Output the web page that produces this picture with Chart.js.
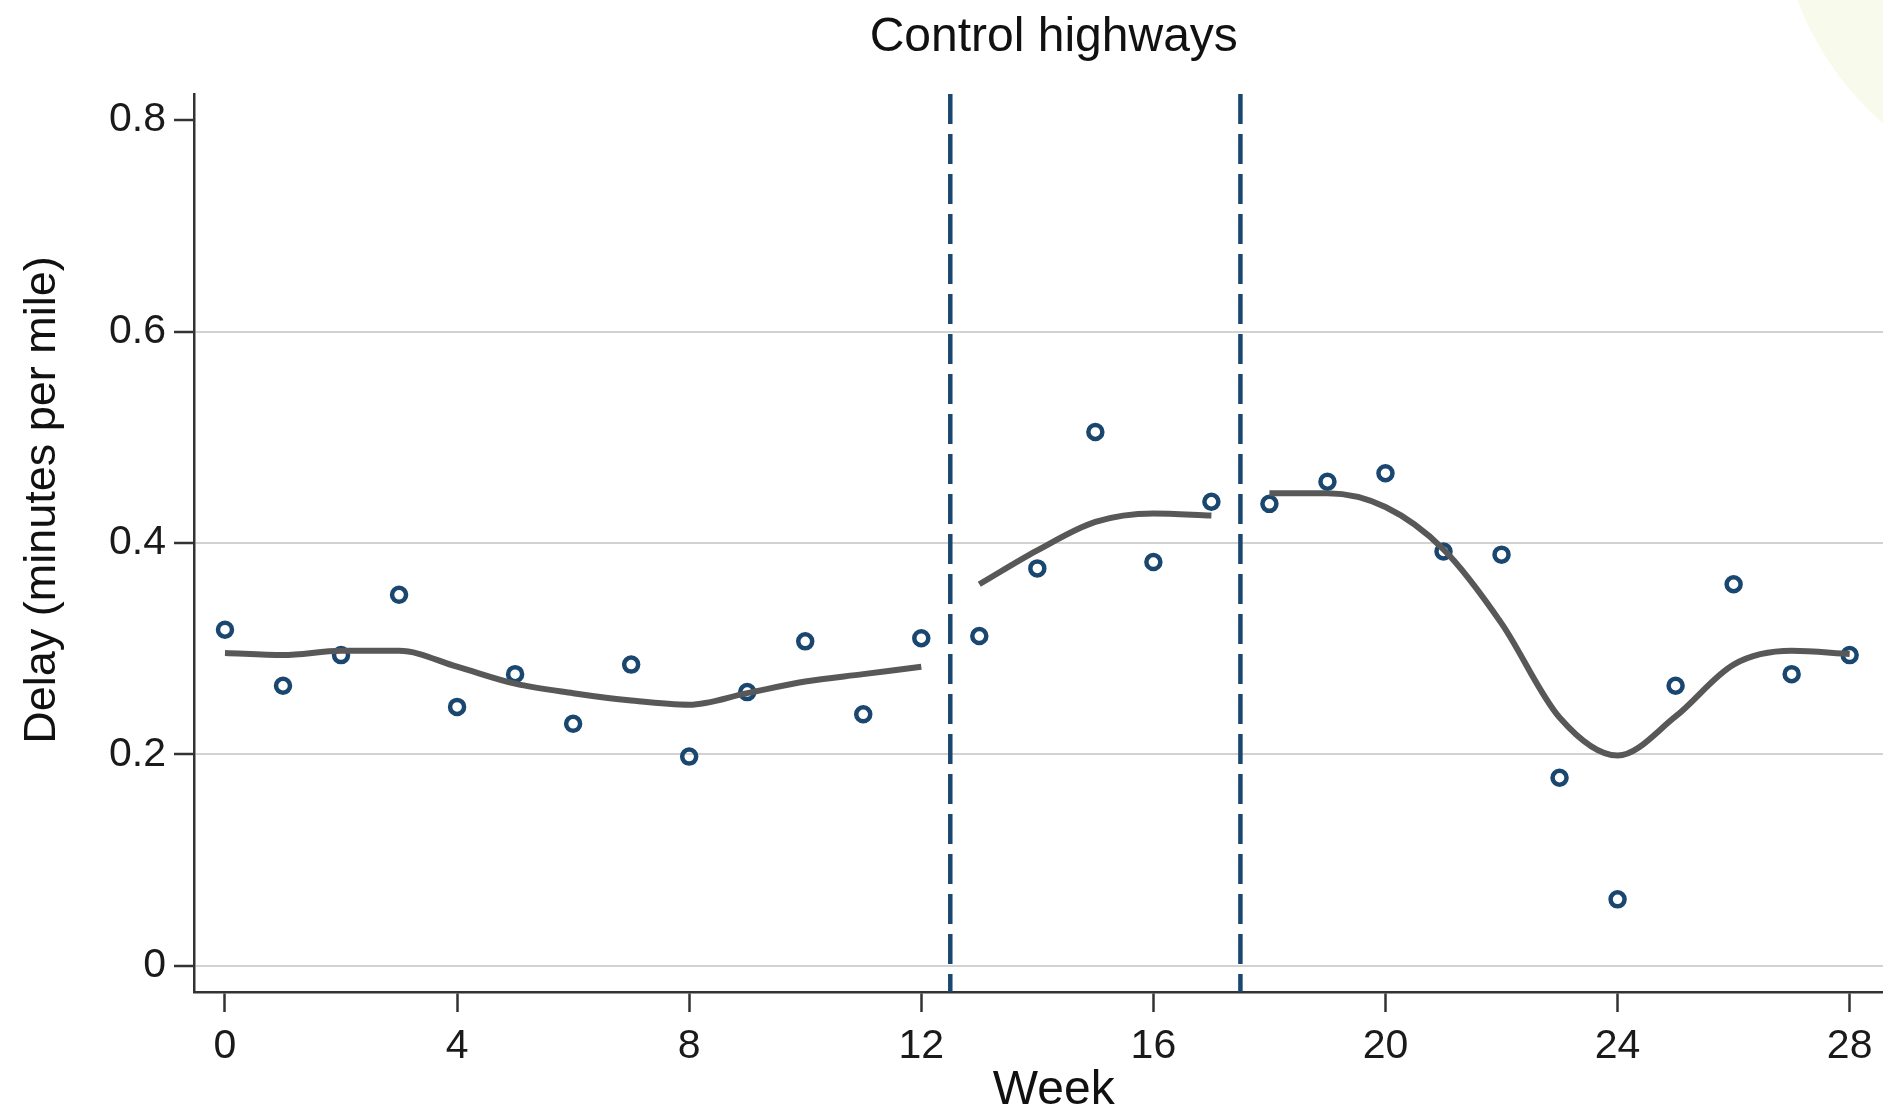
<!DOCTYPE html>
<html>
<head>
<meta charset="utf-8">
<title>Control highways</title>
<script src="https://cdn.jsdelivr.net/npm/chart.js@4.4.1/dist/chart.umd.min.js"></script>
<style>
  html, body { margin: 0; padding: 0; background: #fff; overflow: hidden; }
  #wrap { position: relative; width: 1883px; height: 1112px; overflow: hidden; }
  #blob { position: absolute; left: 1778px; top: -412px; width: 610px; height: 610px; border-radius: 50%; background: #f8fbeb; }
  #chart { position: absolute; left: 0; top: 0; }
</style>
</head>
<body>
<div id="wrap">
  <div id="blob"></div>
  <canvas id="chart" width="1925" height="1112"></canvas>
</div>
<script>
// weekly delay, control highways
const weeks = [0, 1, 2, 3, 4, 5, 6, 7, 8, 9, 10, 11, 12, 13, 14, 15, 16, 17, 18, 19, 20, 21, 22, 23, 24, 25, 26, 27, 28];
const delay = [0.318, 0.265, 0.294, 0.351, 0.245, 0.276, 0.229, 0.285, 0.198, 0.259, 0.307, 0.238, 0.310,
               0.312, 0.376, 0.505, 0.382, 0.439,
               0.437, 0.458, 0.466, 0.392, 0.389, 0.178, 0.063, 0.265, 0.361, 0.276, 0.294];

// smoothed fit, one piece per period
const weeksPre = [0, 1, 2, 3, 4, 5, 6, 7, 8, 9, 10, 11, 12];
const smoothPre = [0.296, 0.294, 0.298, 0.298, 0.283, 0.267, 0.258, 0.251, 0.247, 0.258, 0.269, 0.276, 0.283];
const weeksDuring = [13, 14, 15, 16, 17];
const smoothDuring = [0.361, 0.393, 0.420, 0.428, 0.426];
const weeksPost = [18, 19, 20, 21, 22, 23, 24, 25, 26, 27, 28];
const smoothPost = [0.447, 0.447, 0.434, 0.394, 0.324, 0.235, 0.199, 0.236, 0.285, 0.298, 0.295];

const breaks = [12.5, 17.5];
const xTicks = [0, 4, 8, 12, 16, 20, 24, 28];
const yTicks = [0, 0.2, 0.4, 0.6, 0.8];
const yMin = -0.0246, yMax = 0.8246;

const FONT = '"Liberation Sans", Arial, Helvetica, sans-serif';
const NAVY = '#1a476f';
const yTitle = 'Delay (minutes per mile)';

const toPts = (xs, ys) => xs.map((x, i) => ({ x: x, y: ys[i] }));

const smoothStyle = {
  type: 'line',
  borderColor: '#585858',
  borderWidth: 6,
  pointRadius: 0,
  fill: false,
  cubicInterpolationMode: 'monotone'
};

const datasets = [
  { ...smoothStyle, data: toPts(weeksPre, smoothPre) },
  { ...smoothStyle, data: toPts(weeksDuring, smoothDuring) },
  { ...smoothStyle, data: toPts(weeksPost, smoothPost) },
  {
    type: 'line',
    data: toPts(weeks, delay),
    showLine: false,
    pointStyle: 'circle',
    pointRadius: 7,
    pointBorderWidth: 4.5,
    pointBorderColor: NAVY,
    pointBackgroundColor: 'rgba(255,255,255,0)'
  }
];
breaks.forEach(b => {
  datasets.push({
    type: 'line',
    data: [{ x: b, y: yMax }, { x: b, y: yMin }],
    borderColor: NAVY,
    borderWidth: 4.5,
    borderDash: [30, 10],
    pointRadius: 0,
    fill: false
  });
});

// y title sits a bit above the plot middle, like the original
const yTitlePlugin = {
  id: 'yTitle',
  afterDraw(chart) {
    const ctx = chart.ctx;
    ctx.save();
    ctx.translate(43, 500);
    ctx.rotate(-Math.PI / 2);
    ctx.font = '45px ' + FONT;
    ctx.fillStyle = '#111';
    ctx.textAlign = 'center';
    ctx.textBaseline = 'middle';
    ctx.fillText(yTitle, 0, 0);
    ctx.restore();
  }
};

new Chart(document.getElementById('chart'), {
  type: 'line',
  data: { datasets: datasets },
  plugins: [yTitlePlugin],
  options: {
    responsive: false,
    animation: false,
    devicePixelRatio: 1,
    layout: { padding: 0 },
    plugins: {
      legend: { display: false },
      tooltip: { enabled: false },
      title: {
        display: true,
        text: 'Control highways',
        fullSize: false,
        color: '#111',
        font: { family: FONT, size: 48, weight: 'normal' },
        padding: { top: 9, bottom: 27.4 }
      }
    },
    scales: {
      x: {
        type: 'linear',
        min: -0.534,
        max: 29.1,
        afterFit: s => { s.height = 120; s.paddingLeft = 0; s.paddingRight = 0; },
        afterBuildTicks: s => { s.ticks = xTicks.map(v => ({ value: v })); },
        border: { display: true, color: '#333', width: 2.5 },
        grid: { drawOnChartArea: false, drawTicks: true, tickLength: 20, tickColor: '#333', tickWidth: 2.5 },
        ticks: {
          color: '#1a1a1a',
          padding: 10,
          maxRotation: 0,
          font: { family: FONT, size: 41 },
          callback: v => String(v)
        },
        title: {
          display: true,
          text: 'Week',
          color: '#111',
          font: { family: FONT, size: 48, lineHeight: 0.9 },
          padding: { top: 0, bottom: 0 }
        }
      },
      y: {
        type: 'linear',
        min: yMin,
        max: yMax,
        afterFit: s => { s.width = 194; s.paddingTop = 0; s.paddingBottom = 0; },
        afterBuildTicks: s => { s.ticks = yTicks.map(v => ({ value: v })); },
        border: { display: true, color: '#333', width: 2.5 },
        grid: {
          color: ctx => (ctx.tick && ctx.tick.value === 0.8 ? 'rgba(0,0,0,0)' : '#d2d2d2'),
          lineWidth: 2,
          drawTicks: true,
          tickLength: 20,
          tickColor: '#333',
          tickWidth: 2.5
        },
        ticks: {
          color: '#1a1a1a',
          padding: 8,
          font: { family: FONT, size: 41 },
          callback: v => (v === 0 ? '0' : v.toFixed(1))
        }
      }
    }
  }
});
</script>
</body>
</html>
